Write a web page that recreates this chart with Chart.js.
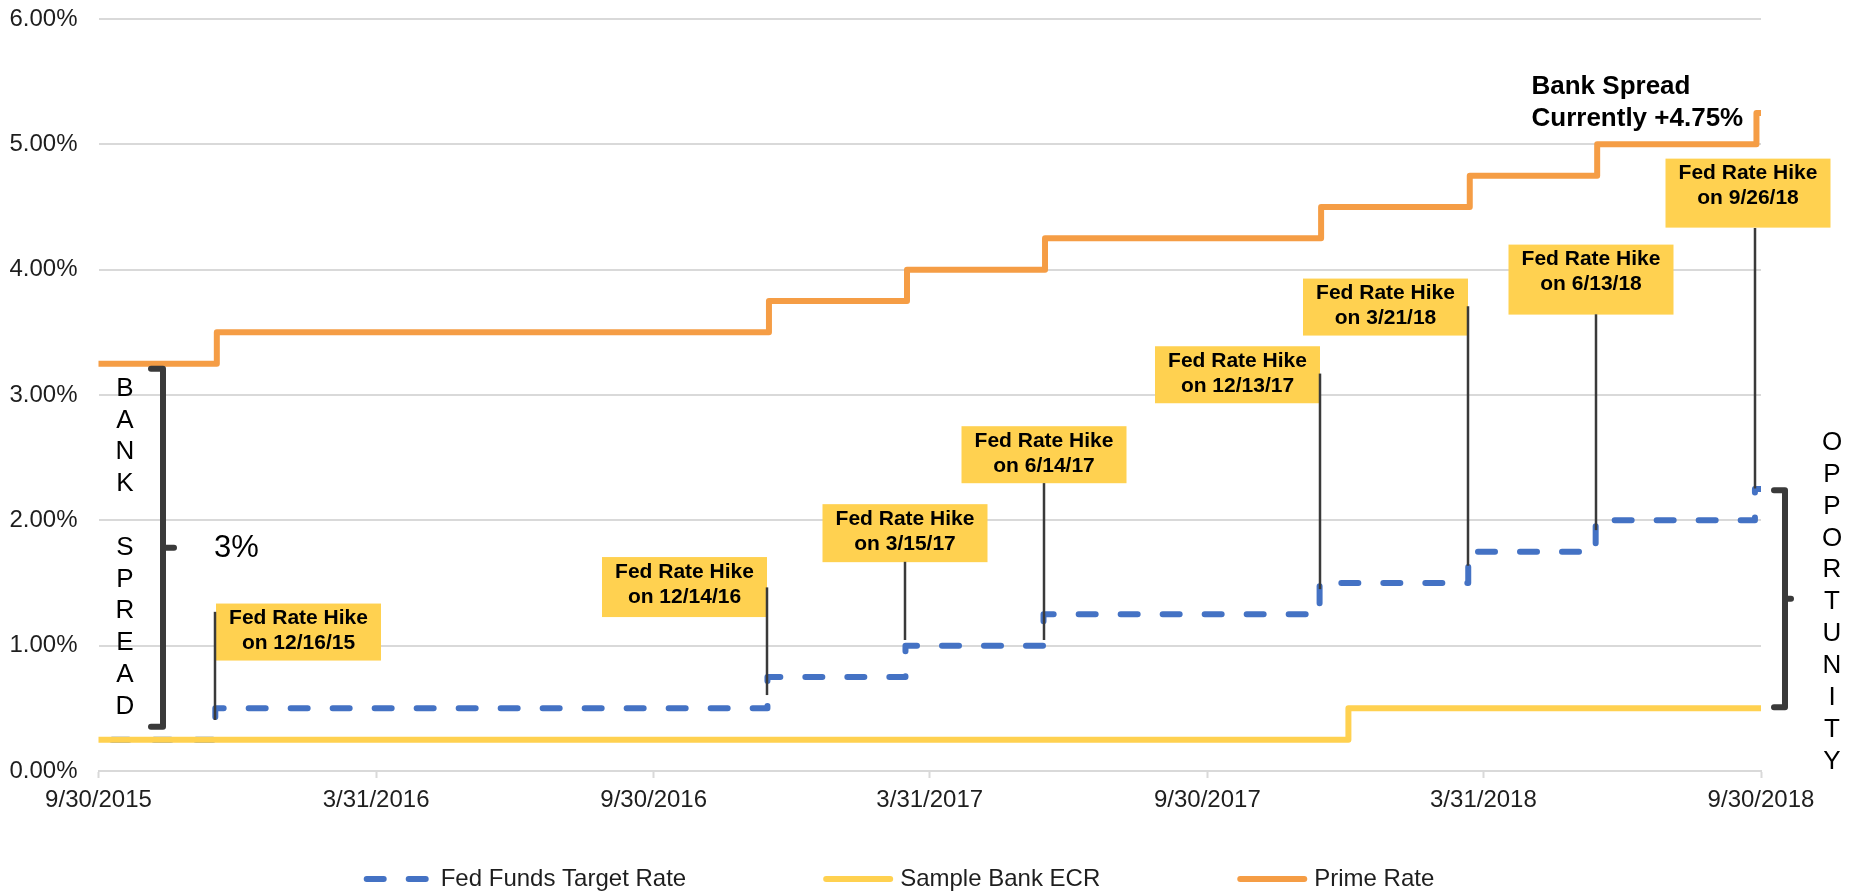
<!DOCTYPE html>
<html>
<head>
<meta charset="utf-8">
<title>Fed Funds, Prime Rate and Bank ECR</title>
<script src="https://cdn.jsdelivr.net/npm/chart.js@4.4.1/dist/chart.umd.min.js"></script>
<style>
  html, body { margin: 0; padding: 0; background: #ffffff; overflow: hidden; }
  #wrap { position: relative; width: 1849px; height: 892px; }
</style>
</head>
<body>
<div id="wrap"><canvas id="rates" width="1849" height="892"></canvas></div>
<script>
// ---- data -------------------------------------------------------------
const seriesNames = ['Fed Funds Target Rate', 'Sample Bank ECR', 'Prime Rate'];

// x-axis tick dates (every six months)
const tickDates = ['2015-09-30', '2016-03-31', '2016-09-30', '2017-03-31',
                   '2017-09-30', '2018-03-31', '2018-09-30'];
// y-axis ticks, in percent
const yTicks = [0, 1, 2, 3, 4, 5, 6];

// Fed funds target (upper bound): start, each hike, end of period
const fedDates = ['2015-09-30', '2015-12-16', '2016-12-14', '2017-03-15', '2017-06-14',
                  '2017-12-13', '2018-03-21', '2018-06-13', '2018-09-26', '2018-09-30'];
const fedRates = [0.25, 0.50, 0.75, 1.00, 1.25, 1.50, 1.75, 2.00, 2.25, 2.25];

// Sample bank earnings credit rate
const ecrDates = ['2015-09-30', '2018-01-01', '2018-09-30'];
const ecrRates = [0.25, 0.50, 0.50];

// Prime rate: moves the day after each Fed hike
const primeDates = ['2015-09-30', '2015-12-17', '2016-12-15', '2017-03-16', '2017-06-15',
                    '2017-12-14', '2018-03-22', '2018-06-14', '2018-09-27', '2018-09-30'];
const primeRates = [3.25, 3.50, 3.75, 4.00, 4.25, 4.50, 4.75, 5.00, 5.25, 5.25];

// ---- helpers ----------------------------------------------------------
const FONT = '"Liberation Sans", Arial, Helvetica, sans-serif';
const BLUE = '#4472C4', GOLD = '#FFD150', ORANGE = '#F59D45';
const INK = '#1e1e1e', GRID = '#d9d9d9', BRACKET = '#3a3a3a';

const toMs = s => Date.UTC(+s.slice(0, 4), +s.slice(5, 7) - 1, +s.slice(8, 10));
const fmtLong = ms => { const d = new Date(ms); return (d.getUTCMonth() + 1) + '/' + d.getUTCDate() + '/' + d.getUTCFullYear(); };
const fmtShort = s => (+s.slice(5, 7)) + '/' + (+s.slice(8, 10)) + '/' + s.slice(2, 4);
const points = (dates, vals) => dates.map((d, i) => ({ x: toMs(d), y: vals[i] }));
const pct = v => (Math.round(v * 100) / 100) + '%';

// hike dates = every date where the target rate goes up
const hikeDates = fedDates.filter((d, i) => i > 0 && fedRates[i] > fedRates[i - 1]);

// ---- callout placement (values on the y scale, sizes in px) ------------
const BOX_W = 165;
const calloutPlacement = [
  { align: 'left',   top: 1.336, h: 57, lineTop: 1.270, lineBottom: 0.407 },
  { align: 'right',  top: 1.707, h: 60, lineTop: 1.465, lineBottom: 0.606 },
  { align: 'center', top: 2.129, h: 58, lineTop: 1.669, lineBottom: 1.045 },
  { align: 'center', top: 2.751, h: 57, lineTop: 2.297, lineBottom: 1.045 },
  { align: 'right',  top: 3.389, h: 57, lineTop: 3.171, lineBottom: 1.451 },
  { align: 'right',  top: 3.929, h: 57, lineTop: 3.708, lineBottom: 1.637 },
  { align: 'center', top: 4.200, h: 70, lineTop: 3.644, lineBottom: 1.922, dx: -5 },
  { align: 'center', top: 4.886, h: 69, lineTop: 4.333, lineBottom: 2.254, dx: -7 }
];

// brace marks: vertical x, hook end, tick end, y extent on the value scale
const spreadBrace = { x: 163, hook: 151, tick: 174, top: 3.21, bottom: 0.353 };
const opportunityBrace = { x: 1785, hook: 1774, tick: 1791, top: 2.241, bottom: 0.508 };

function drawBrace(ctx, yScale, b) {
  const t = yScale.getPixelForValue(b.top), btm = yScale.getPixelForValue(b.bottom);
  const mid = (t + btm) / 2;
  ctx.beginPath();
  ctx.moveTo(b.hook, t);
  ctx.lineTo(b.x, t);
  ctx.lineTo(b.x, btm);
  ctx.lineTo(b.hook, btm);
  ctx.moveTo(b.x, mid);
  ctx.lineTo(b.tick, mid);
  ctx.stroke();
  return mid;
}

function drawColumnWord(ctx, word, cx, y0, step) {
  [...word].forEach((ch, i) => { if (ch !== ' ') ctx.fillText(ch, cx, y0 + i * step); });
}

const rateNotes = {
  id: 'rateNotes',
  afterDatasetsDraw(chart) {
    const { ctx, scales: { x, y } } = chart;
    ctx.save();

    // callout boxes with their labels
    const boxes = hikeDates.map((d, i) => {
      const p = calloutPlacement[i];
      const lx = Math.round(x.getPixelForValue(toMs(d)));
      let left;
      if (p.align === 'left') left = lx + 1;
      else if (p.align === 'right') left = lx - BOX_W;
      else left = lx - BOX_W / 2 + (p.dx || 0);
      return { d, p, lx, left, top: y.getPixelForValue(p.top) };
    });
    ctx.textAlign = 'center';
    ctx.textBaseline = 'middle';
    ctx.font = 'bold 21px ' + FONT;
    boxes.forEach(b => {
      ctx.fillStyle = GOLD;
      ctx.fillRect(b.left, b.top, BOX_W, b.p.h);
      ctx.fillStyle = '#000';
      const cx = b.left + BOX_W / 2;
      ctx.fillText('Fed Rate Hike', cx, b.top + 15);
      ctx.fillText('on ' + fmtShort(b.d), cx, b.top + 40);
    });

    // leader lines down to each step
    ctx.strokeStyle = BRACKET;
    ctx.lineWidth = 2.5;
    boxes.forEach(b => {
      ctx.beginPath();
      ctx.moveTo(b.lx, y.getPixelForValue(b.p.lineTop));
      ctx.lineTo(b.lx, y.getPixelForValue(b.p.lineBottom));
      ctx.stroke();
    });

    // braces
    ctx.lineWidth = 6;
    ctx.lineCap = 'round';
    ctx.lineJoin = 'round';
    const spreadMid = drawBrace(ctx, y, spreadBrace);
    drawBrace(ctx, y, opportunityBrace);

    // vertical words
    ctx.fillStyle = '#000';
    ctx.font = '26px ' + FONT;
    drawColumnWord(ctx, 'BANK SPREAD', 125, 388.7, 31.8);
    drawColumnWord(ctx, 'OPPORTUNITY', 1832, 442.7, 31.9);

    // starting spread
    ctx.textAlign = 'left';
    ctx.font = '31px ' + FONT;
    ctx.fillText(pct(primeRates[0] - ecrRates[0]), 214, spreadMid + 1);

    // current spread
    const nowSpread = primeRates[primeRates.length - 1] - ecrRates[ecrRates.length - 1];
    ctx.font = 'bold 26px ' + FONT;
    ctx.fillText('Bank Spread', 1531.5, 87);
    ctx.fillText('Currently +' + nowSpread.toFixed(2) + '%', 1531.5, 119);

    ctx.restore();
  }
};

// legend along the bottom, one row, wide spacing
const LEGEND = { cx: 900.5, y: 879, line: 64, textGap: 10, itemGap: 140 };
const bottomLegend = {
  id: 'bottomLegend',
  afterDraw(chart) {
    const ctx = chart.ctx;
    ctx.save();
    ctx.font = '24px ' + FONT;
    const items = chart.data.datasets.map(ds => ({
      text: ds.label, color: ds.borderColor, dash: ds.borderDash || [], width: ds.borderWidth
    }));
    const widths = items.map(it => LEGEND.line + LEGEND.textGap + ctx.measureText(it.text).width);
    const total = widths.reduce((a, b) => a + b, 0) + LEGEND.itemGap * (items.length - 1);
    let xPos = LEGEND.cx - total / 2;
    items.forEach((it, i) => {
      ctx.strokeStyle = it.color;
      ctx.lineWidth = it.width;
      ctx.lineCap = 'round';
      ctx.setLineDash(it.dash);
      ctx.lineDashOffset = 0;
      ctx.beginPath();
      ctx.moveTo(xPos, LEGEND.y);
      ctx.lineTo(xPos + LEGEND.line, LEGEND.y);
      ctx.stroke();
      ctx.setLineDash([]);
      ctx.fillStyle = INK;
      ctx.textAlign = 'left';
      ctx.textBaseline = 'middle';
      ctx.fillText(it.text, xPos + LEGEND.line + LEGEND.textGap, LEGEND.y);
      xPos += widths[i] + LEGEND.itemGap;
    });
    ctx.restore();
  }
};

Chart.defaults.font.family = FONT;

const lineStyle = { pointRadius: 0, pointHoverRadius: 0, fill: false, stepped: true,
                    borderCapStyle: 'round', borderJoinStyle: 'round', tension: 0 };

new Chart(document.getElementById('rates'), {
  type: 'line',
  data: {
    datasets: [
      Object.assign({ label: seriesNames[0], data: points(fedDates, fedRates), borderColor: BLUE,
        backgroundColor: BLUE, borderWidth: 6, borderDash: [17, 25], borderDashOffset: 28.5, order: 3 }, lineStyle),
      Object.assign({ label: seriesNames[1], data: points(ecrDates, ecrRates), borderColor: GOLD,
        backgroundColor: GOLD, borderWidth: 6, order: 2 }, lineStyle),
      Object.assign({ label: seriesNames[2], data: points(primeDates, primeRates), borderColor: ORANGE,
        backgroundColor: ORANGE, borderWidth: 6, order: 1 }, lineStyle)
    ]
  },
  options: {
    responsive: false,
    animation: false,
    devicePixelRatio: 1,
    events: [],
    layout: { padding: { top: 19, right: 88, bottom: 71, left: 0 } },
    plugins: { legend: { display: false }, tooltip: { enabled: false } },
    scales: {
      x: {
        type: 'linear',
        min: toMs(tickDates[0]),
        max: toMs(tickDates[tickDates.length - 1]),
        afterBuildTicks: s => { s.ticks = tickDates.map(d => ({ value: toMs(d) })); },
        afterFit: s => { s.height = 50; },
        ticks: { callback: v => fmtLong(v), autoSkip: false, maxRotation: 0, padding: 8,
                 color: INK, font: { size: 24 } },
        grid: { drawOnChartArea: false, drawTicks: true, tickLength: 7, tickWidth: 2, tickColor: GRID },
        border: { display: true, color: GRID, width: 2 }
      },
      y: {
        min: 0,
        max: 6,
        afterBuildTicks: s => { s.ticks = yTicks.map(v => ({ value: v })); },
        afterFit: s => { s.width = 98.5; },
        ticks: { callback: v => v.toFixed(2) + '%', padding: 1, color: INK, font: { size: 24 } },
        // invisible tick marks keep the labels clear of the plot edge
        grid: { color: GRID, lineWidth: 2, drawTicks: true, tickLength: 20, tickColor: 'rgba(0,0,0,0)' },
        border: { display: false }
      }
    }
  },
  plugins: [rateNotes, bottomLegend]
});
</script>
</body>
</html>
